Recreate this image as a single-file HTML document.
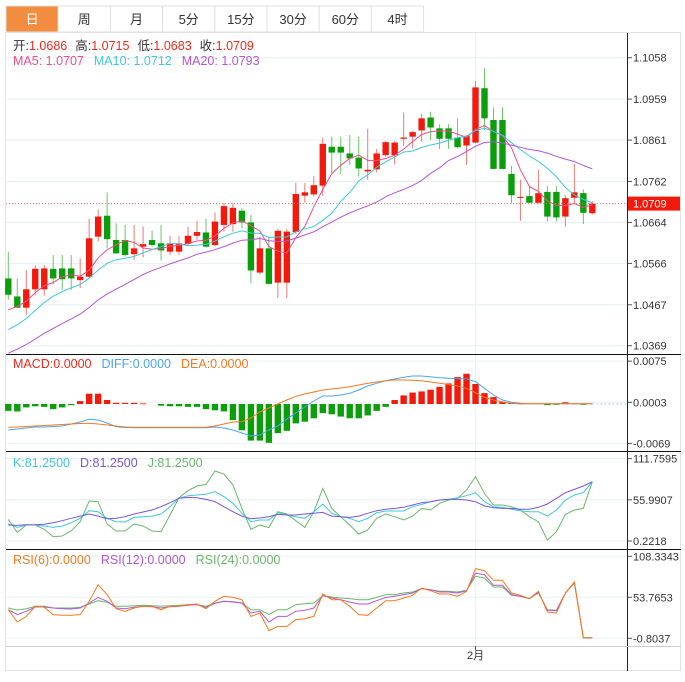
<!DOCTYPE html>
<html><head><meta charset="utf-8">
<style>
html,body{margin:0;padding:0;background:#fff;}
body{width:685px;height:677px;overflow:hidden;font-family:"Liberation Sans","Noto Sans CJK SC",sans-serif;}
svg text{font-family:"Liberation Sans","Noto Sans CJK SC",sans-serif;}
</style></head>
<body>
<svg id="chart" width="685" height="677" xmlns="http://www.w3.org/2000/svg">
  <g id="tabs"></g>
  <rect x="5.5" y="32.5" width="675" height="638" fill="none" stroke="#e2e2e2"/>
  <g id="grid"></g>
  <g id="main"></g>
  <g id="macd"></g>
  <g id="kdj"></g>
  <g id="rsi"></g>
  <g id="axes"></g>
</svg>
<script>
const tabLabels=["日","周","月","5分","15分","30分","60分","4时"];
const priorCloses=[1.0270,1.0278,1.0285,1.0290,1.0295,1.0298,1.0302,1.0306,1.0310,1.0316,1.0345,1.0352,1.0360,1.0368,1.0375,1.0420,1.0440,1.0452,1.0472];
const opens=[1.0530,1.0487,1.0460,1.0504,1.0504,1.0553,1.0554,1.0554,1.0526,1.0534,1.0630,1.0680,1.0622,1.0622,1.0588,1.0606,1.0622,1.0614,1.0594,1.0594,1.0613,1.0632,1.0640,1.0610,1.0658,1.0660,1.0692,1.0664,1.0544,1.0602,1.0520,1.0520,1.0641,1.0728,1.0731,1.0752,1.0845,1.0845,1.0829,1.0819,1.0786,1.0791,1.0825,1.0825,1.0864,1.0869,1.0884,1.0915,1.0889,1.0889,1.0867,1.0848,1.0855,1.0985,1.0909,1.0909,1.0780,1.0723,1.0727,1.0711,1.0737,1.0737,1.0678,1.0723,1.0734,1.0686];
const highs=[1.0594,1.0530,1.0550,1.0562,1.0562,1.0586,1.0586,1.0586,1.0578,1.0673,1.0695,1.0736,1.0662,1.0658,1.0658,1.0654,1.0644,1.0658,1.0632,1.0632,1.0654,1.0668,1.0673,1.0688,1.0711,1.0711,1.0698,1.0682,1.0630,1.0630,1.0648,1.0648,1.0759,1.0758,1.0775,1.0867,1.0869,1.0869,1.0873,1.0869,1.0888,1.0840,1.0859,1.0859,1.0927,1.0883,1.0924,1.0929,1.0899,1.0899,1.0913,1.0873,1.1002,1.1033,1.0939,1.0939,1.0799,1.0766,1.0750,1.0790,1.0751,1.0751,1.0730,1.0804,1.0743,1.0715];
const lows=[1.0479,1.0459,1.0443,1.0489,1.0489,1.0515,1.0503,1.0503,1.0507,1.0530,1.0618,1.0602,1.0589,1.0582,1.0574,1.0580,1.0606,1.0573,1.0586,1.0586,1.0608,1.0622,1.0604,1.0606,1.0642,1.0642,1.0650,1.0518,1.0540,1.0515,1.0483,1.0483,1.0637,1.0711,1.0726,1.0728,1.0782,1.0780,1.0802,1.0774,1.0766,1.0783,1.0821,1.0803,1.0847,1.0841,1.0857,1.0861,1.0840,1.0840,1.0841,1.0802,1.0853,1.0885,1.0792,1.0792,1.0710,1.0668,1.0711,1.0710,1.0666,1.0666,1.0654,1.0708,1.0660,1.0683];
const closes=[1.0491,1.0460,1.0504,1.0553,1.0554,1.0530,1.0528,1.0530,1.0534,1.0626,1.0678,1.0624,1.0590,1.0586,1.0602,1.0612,1.0610,1.0597,1.0614,1.0614,1.0632,1.0641,1.0606,1.0666,1.0703,1.0699,1.0664,1.0549,1.0602,1.0517,1.0644,1.0642,1.0732,1.0736,1.0753,1.0852,1.0831,1.0831,1.0817,1.0793,1.0790,1.0829,1.0856,1.0855,1.0867,1.0880,1.0913,1.0891,1.0864,1.0864,1.0844,1.0871,1.0987,1.0913,1.0792,1.0792,1.0729,1.0725,1.0711,1.0734,1.0678,1.0676,1.0722,1.0736,1.0687,1.0709];
const priceTicks=[1.1058,1.0959,1.0861,1.0762,1.0664,1.0566,1.0467,1.0369];
const macdHist=[-0.0012,-0.0013,-0.0006,-0.0004,-0.0005,-0.0009,-0.0006,-0.0002,0.0005,0.0018,0.0018,0.0007,0.0002,0.0002,0.0002,0.0001,0,-0.0003,-0.0004,-0.0004,-0.0005,-0.0005,-0.0009,-0.0011,-0.0013,-0.0028,-0.0046,-0.0064,-0.0064,-0.0068,-0.0051,-0.0047,-0.0034,-0.0031,-0.0025,-0.0016,-0.0018,-0.0022,-0.0025,-0.0025,-0.0020,-0.0012,-0.0005,0.0007,0.0015,0.0020,0.0022,0.0025,0.0030,0.0036,0.0047,0.0053,0.0035,0.0019,0.0012,0.0004,0.0002,0.0001,0,0,-0.0002,-0.0001,0.0003,0.0001,-0.0001,0];
const diffVals=[-0.00455,-0.00438,-0.0042,-0.00403,-0.00403,-0.00394,-0.00385,-0.0035,-0.00315,-0.00268,-0.0028,-0.00333,-0.00397,-0.00411,-0.00415,-0.00415,-0.00415,-0.00415,-0.00415,-0.00415,-0.00415,-0.00415,-0.00415,-0.00403,-0.0042,-0.00455,-0.00508,-0.0056,-0.00543,-0.00455,-0.00385,-0.00263,-0.00158,-0.00053,0.00053,0.0014,0.0014,0.00158,0.00187,0.00245,0.00315,0.00362,0.00408,0.00438,0.00467,0.0049,0.0049,0.00478,0.0046,0.0045,0.00443,0.00443,0.0039,0.00275,0.00158,0.0007,0.0003,0.00012,0.00005,0.00005,0.00005,0.00005,0.00005,0.00005,0.00005,0.00005];
const deaVals=[-0.00408,-0.00403,-0.00394,-0.00385,-0.00376,-0.00368,-0.00359,-0.0035,-0.00341,-0.00338,-0.0035,-0.00368,-0.00385,-0.00403,-0.00408,-0.00408,-0.00408,-0.00408,-0.00408,-0.00408,-0.00408,-0.00408,-0.00408,-0.00385,-0.0035,-0.00315,-0.0031,-0.00245,-0.0014,-0.0007,0,0.0007,0.00135,0.00175,0.0021,0.00245,0.00263,0.0028,0.00303,0.00333,0.00362,0.00385,0.00408,0.0042,0.0042,0.00415,0.00408,0.00385,0.00362,0.00341,0.00315,0.00275,0.00198,0.00117,0.0007,0.00035,0.00012,0.00005,0.00005,0.00005,0.00005,0.00005,0.00005,0.00005,0.00005,0.00005];
const macdTicks=[0.0075,0.0003,-0.0069];
const kVals=[23.2,18.7,21.9,21.9,20.5,18.7,20.5,25.0,30.9,41.3,39.9,30.9,26.4,25.9,32.2,33.1,34.0,36.8,46.7,58.0,61.6,62.5,63.4,67.0,60.2,51.2,37.7,26.4,28.6,28.6,38.6,35.4,33.1,30.9,39.9,50.3,37.7,33.1,30.9,26.4,30.9,38.6,40.8,40.8,40.8,46.7,49.8,53.4,55.7,56.6,58.9,61.6,65.6,53.4,46.7,45.8,43.1,41.3,39.9,39.9,34.0,42.2,55.7,62.5,65.6,80.5];
const dVals=[21.9,21.4,22.3,22.3,22.8,25.0,27.7,30.9,34.0,36.8,34.0,30.4,30.9,33.1,36.8,39.5,42.2,46.7,52.1,58.0,59.3,58.9,56.6,53.4,46.7,39.9,34.0,30.4,31.3,33.1,36.3,35.4,35.4,36.8,37.7,39.0,34.0,33.1,32.2,34.0,37.7,41.3,43.1,44.4,45.8,48.9,52.1,53.4,55.7,56.6,56.6,55.7,53.4,47.6,45.3,44.4,44.4,43.1,43.1,45.8,50.3,58.0,65.6,70.1,74.7,80.5];
const jVals=[29.5,11.9,21.9,21.9,16.0,6.1,7.0,14.2,26.4,54.4,53.4,23.2,13.7,13.7,23.2,20.5,13.7,12.8,35.4,58.9,68.3,74.7,76.9,95.0,90.9,76.0,44.4,16.0,21.9,18.3,39.9,36.8,27.7,18.7,39.9,71.5,44.4,33.1,21.9,9.7,15.1,30.9,36.8,33.1,28.6,34.0,44.4,42.2,51.2,55.7,58.0,69.2,87.3,64.7,48.9,48.9,46.7,42.2,33.1,26.4,1.5,12.8,36.3,42.2,44.4,80.5];
const kdjTicks=[111.7595,55.9907,0.2218];
const rsi6=[37.3,20.9,28.4,41.8,40.4,30.7,29.8,29.8,30.7,48.4,70.6,57.3,38.6,35.1,39.5,41.8,41.8,37.3,41.8,41.8,44.0,44.9,38.6,48.4,55.1,53.7,50.6,28.4,32.9,9.4,15.1,15.1,24.0,25.3,28.4,58.2,50.6,50.6,41.8,30.7,29.8,39.5,49.3,49.3,52.8,56.4,66.2,62.6,58.2,58.2,55.1,61.7,91.9,89.2,76.4,76.4,59.5,56.4,52.0,61.7,34.2,32.9,59.5,74.1,0,0];
const rsi12=[37.3,30.7,35.1,40.9,40.9,39.5,38.6,38.2,39.5,46.2,53.7,48.4,39.5,38.6,40.4,41.8,41.3,39.5,41.3,41.8,43.1,44.0,40.4,45.8,48.4,47.5,46.2,32.9,35.1,20.9,28.4,28.4,35.1,36.4,39.5,56.0,52.8,50.6,47.5,44.9,44.9,49.3,53.7,55.1,57.3,59.5,65.3,63.9,60.8,60.8,59.5,62.6,86.1,83.9,69.7,69.7,57.3,55.1,52.0,60.4,36.4,36.0,59.5,73.7,0,0];
const rsi24=[39.5,36.9,38.6,41.8,41.8,39.5,39.5,39.5,40.4,44.9,49.3,47.1,41.8,41.8,42.6,43.1,42.6,41.8,42.6,43.1,44.0,44.0,41.8,46.2,48.4,48.0,46.2,37.3,37.3,30.7,37.3,37.3,44.0,45.3,46.2,56.0,54.2,52.8,52.0,50.6,50.6,53.7,57.3,57.3,59.5,60.8,65.3,63.9,61.7,61.7,60.8,63.0,81.7,79.5,67.5,67.5,56.4,55.1,52.0,59.5,37.3,36.4,59.5,72.8,0,0];
const rsiTicks=[108.3343,53.7653,-0.8037];
const dateLabels=["2月"];
const dateIndex=[52];

const NS="http://www.w3.org/2000/svg";
function el(tag,attrs,parent,text){const e=document.createElementNS(NS,tag);for(const k in attrs)e.setAttribute(k,attrs[k]);if(text!==undefined)e.textContent=text;parent.appendChild(e);return e;}
const N=closes.length;
const PL=6, PR=627;
function xi(i){return 8.3+i*8.985;}
function yP(p){return 57.7+(1.1058-p)/0.0002392;}
function yM(v){return 404-v/0.000175;}
function yK(v){return 541-(v-0.2218)/1.354;}
function yR(v){return 638.3-(v+0.8037)/1.331;}

const tabs=document.getElementById('tabs');
for(let t=0;t<tabLabels.length;t++){
  const x=6+t*52.2, w=52.2, active=t===0;
  const r=el('rect',{x:x,y:6,width:w,height:26,fill:active?'#f28c3f':'#fff',stroke:'#e0e0e0'},tabs);
  
  
  const tx=el('text',{x:x+w/2,y:24,'text-anchor':'middle','font-size':'13',fill:active?'#fff':'#333'},tabs,tabLabels[t]);
  
  
}

const grid=document.getElementById('grid');
priceTicks.forEach(p=>{el('line',{x1:PL,x2:PR,y1:yP(p),y2:yP(p),stroke:'#e8eef3'},grid);});
macdTicks.forEach(v=>{el('line',{x1:PL,x2:PR,y1:yM(v),y2:yM(v),stroke:'#eef2f5'},grid);});
kdjTicks.forEach(v=>{el('line',{x1:PL,x2:PR,y1:yK(v),y2:yK(v),stroke:'#e8eef3'},grid);});
rsiTicks.forEach(v=>{el('line',{x1:PL,x2:PR,y1:yR(v),y2:yR(v),stroke:'#eef2f5'},grid);});
dateIndex.forEach(i=>{el('line',{x1:xi(i),x2:xi(i),y1:33,y2:646,stroke:'#eef2f5'},grid);});

const main=document.getElementById('main');
const up='#f21a0c', dn='#0a9e0a';
for(let i=0;i<N;i++){
  const isUp=closes[i]>=opens[i];
  const c=isUp?up:dn;
  const w=el('line',{x1:xi(i),x2:xi(i),y1:yP(highs[i]),y2:yP(lows[i]),stroke:isUp?'#f27a72':'#6cc46c','stroke-width':1},main);
  
  
  const top=yP(Math.max(opens[i],closes[i])), bot=yP(Math.min(opens[i],closes[i]));
  const b=el('rect',{x:xi(i)-3.2,y:top,width:6.4,height:Math.max(1,bot-top),fill:c},main);
  
  
}
const allC=priorCloses.concat(closes);
function ma(n){const out=[];for(let i=0;i<N;i++){const j=i+priorCloses.length;let s=0;for(let k=j-n+1;k<=j;k++)s+=allC[k];out.push(s/n);}return out;}
function poly(vals,fy,color,name,parent,w){
  const pts=vals.map((v,i)=>xi(i).toFixed(1)+','+fy(v).toFixed(1)).join(' ');
  const p=el('polyline',{points:pts,fill:'none',stroke:color,'stroke-width':w||1},parent);
  
  
}
poly(ma(5),yP,'#ee4f86','ma5-line',main);
poly(ma(10),yP,'#3ec8dc','ma10-line',main);
poly(ma(20),yP,'#b456d6','ma20-line',main);
const last=closes[N-1];
el('line',{x1:PL,x2:PR,y1:yP(last),y2:yP(last),stroke:'#f07070','stroke-dasharray':'1,2'},main);
const pl=el('rect',{x:628,y:yP(last)-7,width:52,height:14,fill:'#f21a0c'},main);


el('text',{x:633,y:yP(last)+4,'font-size':'11',fill:'#fff'},main,last.toFixed(4));

// legend builder: segments [text,color,gapBefore]
function legend(parent,y,name,segs){
  const t=el('text',{x:13,y:y,'font-size':'12.5'},parent);
  
  
  segs.forEach(s=>{const a={fill:s[1]};if(s[2])a.dx=s[2];el('tspan',a,t,s[0]);});
}
legend(main,50,'ohlc-header',[['开:','#333'],['1.0686','#f02a1a'],['高:','#333',8],['1.0715','#f02a1a'],['低:','#333',8],['1.0683','#f02a1a'],['收:','#333',8],['1.0709','#f02a1a']]);
legend(main,65,'ma-legend',[['MA5: 1.0707','#ee4f86'],['MA10: 1.0712','#3ec8dc',10],['MA20: 1.0793','#b456d6',10]]);

const mg=document.getElementById('macd');
for(let i=0;i<N;i++){
  const v=macdHist[i]; if(v===0) continue;
  const y0=yM(0), y1=yM(v);
  const r=el('rect',{x:xi(i)-3.2,y:Math.min(y0,y1),width:6.4,height:Math.max(0.8,Math.abs(y1-y0)),fill:v>0?up:dn},mg);
  
  
}
el('line',{x1:xi(N-1),x2:PR,y1:yM(0),y2:yM(0),stroke:'#9fd8f0','stroke-dasharray':'2,2'},mg);
poly(diffVals,yM,'#4aa6f0','diff-line',mg);
poly(deaVals,yM,'#f57a1e','dea-line',mg);
legend(mg,368,'macd-legend',[['MACD:0.0000','#f02a1a'],['DIFF:0.0000','#4aa6f0',10],['DEA:0.0000','#f57a1e',10]]);

const kg=document.getElementById('kdj');
poly(jVals,yK,'#6ab86a','j-line',kg);
poly(kVals,yK,'#3ec8dc','k-line',kg);
poly(dVals,yK,'#7b55d6','d-line',kg);
legend(kg,467,'kdj-legend',[['K:81.2500','#3ec8dc'],['D:81.2500','#7b55d6',10],['J:81.2500','#6ab86a',10]]);

const rg=document.getElementById('rsi');
poly(rsi24,yR,'#6ab86a','rsi24-line',rg);
poly(rsi12,yR,'#b456d6','rsi12-line',rg);
poly(rsi6,yR,'#f57a1e','rsi6-line',rg);
legend(rg,564,'rsi-legend',[['RSI(6):0.0000','#f57a1e'],['RSI(12):0.0000','#b456d6',10],['RSI(24):0.0000','#6ab86a',10]]);

const ax=document.getElementById('axes');
el('line',{x1:627.5,x2:627.5,y1:33,y2:671,stroke:'#222'},ax);
[354,451,549].forEach(y=>el('line',{x1:6,x2:681,y1:y+0.5,y2:y+0.5,stroke:'#111'},ax));
el('line',{x1:6,x2:681,y1:646.5,y2:646.5,stroke:'#ccc'},ax);
function ticks(arr,fy,fmt,name){arr.forEach(v=>{const y=fy(v);el('line',{x1:628,x2:632,y1:y,y2:y,stroke:'#555'},ax);const t=el('text',{x:633,y:y+4,'font-size':'11',fill:'#333'},ax,fmt(v));});}
ticks(priceTicks,yP,v=>v.toFixed(4),'price-tick');
ticks(macdTicks,yM,v=>v.toFixed(4),'macd-tick');
ticks(kdjTicks,yK,v=>v.toFixed(4),'kdj-tick');
ticks(rsiTicks,yR,v=>v.toFixed(4),'rsi-tick');
dateIndex.forEach((i,k)=>{el('line',{x1:xi(i),x2:xi(i),y1:646,y2:650,stroke:'#555'},ax);const t=el('text',{x:xi(i),y:659,'font-size':'11','text-anchor':'middle',fill:'#333'},ax,dateLabels[k]);});
</script>
</body></html>
